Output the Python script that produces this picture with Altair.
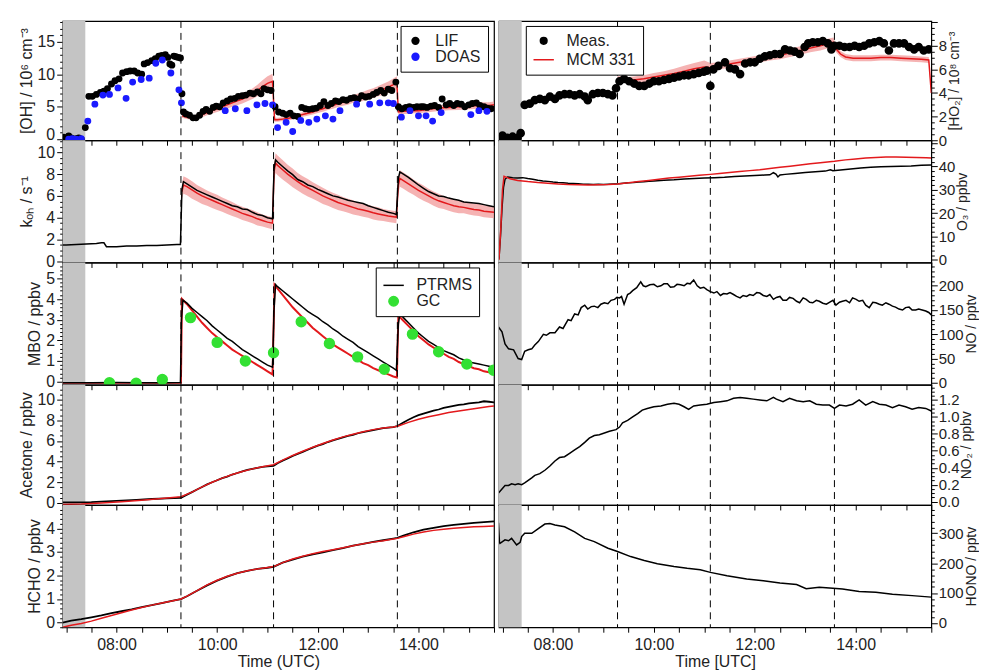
import altair as alt
import pandas as pd

FONT = "Liberation Sans"
TXT = "#222222"
RED = "#e3191c"
BAND = "#f29a9a"
GRAY = "#c4c4c4"
BLUE = "#1a1aff"
GREEN = "#33e033"

XMIN, XMAX = 6.93, 15.5
gray_start = [6.93]
gray_end = [7.38]
dash_times = [9.28, 11.12, 13.58]
x_ticks = [7.0, 7.5, 8.0, 8.5, 9.0, 9.5, 10.0, 10.5, 11.0, 11.5, 12.0, 12.5, 13.0, 13.5, 14.0, 14.5, 15.0, 15.5]

# ---------------- OH ----------------
lif_t = [6.95, 7.00, 7.05, 7.10, 7.15, 7.20, 7.25, 7.30,
         7.38, 7.45, 7.52, 7.60, 7.68, 7.75, 7.82, 7.90, 7.97, 8.05,
         8.12, 8.20, 8.27, 8.35, 8.42, 8.50, 8.55, 8.62, 8.70, 8.77,
         8.84, 8.90, 8.97, 9.02, 9.06, 9.10, 9.14, 9.18, 9.23, 9.27,
         9.30, 9.33, 9.38, 9.45, 9.52, 9.58, 9.65, 9.72, 9.78, 9.85,
         9.92, 9.98, 10.05, 10.12, 10.20, 10.27, 10.35, 10.42, 10.50, 10.57,
         10.65, 10.72, 10.80, 10.87, 10.93, 11.00, 11.07,
         11.15, 11.22, 11.30, 11.37, 11.45, 11.52, 11.60, 11.68, 11.75, 11.82,
         11.90, 11.97, 12.05, 12.12, 12.20, 12.27, 12.35, 12.42, 12.50, 12.57,
         12.65, 12.72, 12.80, 12.87, 12.95, 13.02, 13.10, 13.17, 13.25, 13.32,
         13.40, 13.47, 13.55,
         13.60, 13.67, 13.75, 13.82, 13.90, 13.97, 14.05, 14.10, 14.17, 14.25,
         14.32, 14.40, 14.47, 14.55, 14.62, 14.70, 14.77, 14.85, 14.92, 15.00,
         15.07, 15.15, 15.22, 15.30, 15.37, 15.45]
lif_v = [0.3, 0.0, 0.5, 0.2, 0.0, 0.1, 0.2, 0.0,
         1.8, 6.6, 6.6, 6.9, 7.2, 7.4, 7.8, 8.5, 9.0, 9.3,
         10.2, 10.4, 10.5, 10.5, 10.2, 10.0, 11.6, 11.8, 12.1, 12.4,
         12.8, 12.9, 13.0, 12.6, 11.6, 11.4, 12.8, 12.7, 12.6, 12.5,
         7.0, 4.2, 3.9, 3.7, 3.3, 3.3, 3.7, 4.3, 4.6, 4.3,
         4.9, 5.1, 5.0, 5.6, 5.9, 6.2, 6.3, 6.6, 6.7, 6.8,
         7.1, 7.0, 7.3, 7.0, 7.8, 7.6, 7.5,
         5.0, 4.2, 4.0, 3.8, 4.0, 3.6, 3.5, 4.9, 4.7, 4.6,
         4.7, 4.8, 5.2, 5.8, 5.2, 5.5, 5.9, 5.8, 6.1, 6.0,
         6.3, 6.4, 6.2, 6.7, 6.5, 6.6, 6.9, 7.2, 7.5, 7.1,
         7.7, 7.5, 8.8,
         5.0, 4.7, 4.9, 5.0, 4.9, 5.0, 5.0, 5.0, 4.9, 5.1,
         5.2, 4.9, 6.2, 5.3, 5.5, 5.2, 5.5, 5.4, 5.0, 5.3,
         5.5, 5.6, 5.2, 5.0, 4.8, 4.7]
doas_t = [7.05, 7.12, 7.20, 7.30, 7.43, 7.57, 7.73, 7.86, 8.03, 8.19, 8.32, 8.49, 8.65, 8.78, 8.91, 9.08, 9.24, 9.29,
          10.16, 10.36, 10.59, 10.79, 10.95, 11.10,
          11.20, 11.37, 11.50, 11.66, 11.82, 11.98, 12.15, 12.30, 12.44, 12.77, 13.03, 13.23, 13.40, 13.50,
          13.66, 13.83, 14.00, 14.15, 14.28, 14.45, 15.04, 15.20, 15.36]
doas_v = [0.0, 0.1, 0.0, 0.1, 2.8, 5.4, 6.8, 6.9, 7.9, 6.3, 8.8, 9.2, 9.4, 11.7, 12.2, 10.2, 7.6, 5.6,
          4.4, 4.7, 4.4, 5.3, 5.5, 5.3,
          1.8, 2.6, 1.2, 2.9, 2.6, 3.1, 3.6, 3.1, 4.4, 5.4, 5.4, 5.6, 5.6, 5.5,
          3.4, 4.4, 3.6, 3.6, 2.8, 4.1, 3.8, 4.4, 4.3]
ohm_t = [9.30, 9.40, 9.50, 9.60, 9.70, 9.80, 9.90, 10.00, 10.10, 10.20, 10.30, 10.40, 10.50, 10.60, 10.70, 10.80, 10.90, 11.00, 11.10,
         11.14, 11.20, 11.30, 11.40, 11.50, 11.60, 11.70, 11.80, 11.90, 12.00, 12.10, 12.20, 12.30, 12.40, 12.50, 12.60, 12.70, 12.80,
         12.90, 13.00, 13.10, 13.20, 13.30, 13.40, 13.50, 13.57,
         13.60, 13.70, 13.80, 13.90, 14.00, 14.20, 14.40, 14.60, 14.80, 15.00, 15.20, 15.40, 15.50]
ohm_v = [3.6, 3.4, 3.3, 3.5, 3.8, 4.1, 4.4, 4.7, 5.0, 5.3, 5.6, 5.9, 6.2, 6.6, 7.0, 7.5, 8.1, 8.6, 8.9,
         3.0, 3.0, 3.1, 3.2, 3.4, 3.6, 3.8, 4.0, 4.2, 4.5, 4.7, 5.0, 5.2, 5.5, 5.7, 5.9, 6.2, 6.4,
         6.6, 6.9, 7.1, 7.4, 7.7, 8.0, 8.4, 8.7,
         4.2, 4.3, 4.3, 4.4, 4.4, 4.6, 4.8, 4.9, 5.0, 5.1, 5.2, 5.2, 5.3]
ohm_u = [0.3, 0.3, 0.3, 0.35, 0.4, 0.4, 0.45, 0.5, 0.5, 0.55, 0.6, 0.65, 0.7, 0.75, 0.8, 0.9, 1.0, 1.1, 1.2,
         0.3, 0.3, 0.3, 0.3, 0.35, 0.35, 0.35, 0.4, 0.4, 0.45, 0.45, 0.5, 0.5, 0.55, 0.55, 0.6, 0.6, 0.65,
         0.7, 0.7, 0.75, 0.8, 0.85, 0.9, 0.95, 1.0,
         0.4, 0.4, 0.4, 0.4, 0.4, 0.45, 0.45, 0.45, 0.5, 0.5, 0.5, 0.5, 0.5]

# ---------------- kOH ----------------
koh_pre_t = [6.93, 7.0, 7.2, 7.4, 7.6, 7.7, 7.75, 7.8, 7.9, 8.0, 8.2, 8.4, 8.6, 8.8, 9.0, 9.2, 9.27]
koh_pre_v = [1.5, 1.5, 1.55, 1.6, 1.65, 1.7, 1.7, 1.35, 1.35, 1.35, 1.4, 1.4, 1.45, 1.45, 1.5, 1.55, 1.55]
koh_t = [9.30, 9.33, 9.4, 9.5, 9.6, 9.7, 9.8, 9.9, 10.0, 10.1, 10.2, 10.3, 10.4, 10.5, 10.6, 10.7, 10.8, 10.9, 11.0, 11.1,
         11.13, 11.16, 11.2, 11.3, 11.4, 11.5, 11.6, 11.7, 11.8, 11.9, 12.0, 12.1, 12.2, 12.3, 12.4, 12.5, 12.6, 12.7,
         12.8, 12.9, 13.0, 13.1, 13.2, 13.3, 13.4, 13.5, 13.56,
         13.6, 13.63, 13.7, 13.8, 13.9, 14.0, 14.1, 14.2, 14.3, 14.4, 14.5, 14.6, 14.7, 14.8, 14.9, 15.0, 15.1, 15.2,
         15.3, 15.4, 15.5]
koh_v = [6.6, 7.3, 7.1, 6.8, 6.5, 6.3, 6.1, 5.9, 5.7, 5.5, 5.3, 5.1, 5.0, 4.8, 4.75, 4.5, 4.3, 4.2, 4.0, 3.9,
         8.5, 9.3, 9.1, 8.7, 8.3, 7.95, 7.5, 7.3, 7.0, 6.85, 6.6, 6.4, 6.2, 6.0, 5.9, 5.75, 5.6, 5.5,
         5.4, 5.3, 5.1, 4.95, 4.8, 4.65, 4.5, 4.4, 4.3,
         7.6, 8.2, 8.0, 7.7, 7.35, 7.0, 6.7, 6.4, 6.2, 6.0, 5.95, 5.8, 5.7, 5.6, 5.45, 5.4, 5.35, 5.3,
         5.2, 5.1, 5.0]
kohm_v = [6.4, 7.0, 6.85, 6.55, 6.25, 6.0, 5.8, 5.6, 5.4, 5.2, 5.0, 4.8, 4.6, 4.4, 4.25, 4.1, 3.9, 3.75, 3.6, 3.5,
          8.2, 9.0, 8.8, 8.4, 8.0, 7.65, 7.3, 7.0, 6.75, 6.5, 6.25, 6.0, 5.8, 5.6, 5.4, 5.25, 5.1, 4.95,
          4.8, 4.7, 4.6, 4.45, 4.35, 4.25, 4.15, 4.1, 4.05,
          7.0, 7.6, 7.4, 7.1, 6.8, 6.5, 6.25, 6.0, 5.75, 5.55, 5.4, 5.25, 5.1, 5.0, 4.95, 4.85, 4.75, 4.7,
          4.6, 4.55, 4.5]
kohm_u = [0.7, 0.8, 0.8, 0.8, 0.75, 0.75, 0.7, 0.7, 0.7, 0.65, 0.65, 0.65, 0.6, 0.6, 0.6, 0.6, 0.6, 0.55, 0.55, 0.55,
          0.85, 0.9, 0.9, 0.9, 0.85, 0.85, 0.8, 0.8, 0.8, 0.75, 0.75, 0.75, 0.7, 0.7, 0.7, 0.65, 0.65, 0.65,
          0.6, 0.6, 0.6, 0.6, 0.6, 0.55, 0.55, 0.55, 0.55,
          0.7, 0.75, 0.75, 0.75, 0.7, 0.7, 0.7, 0.65, 0.65, 0.65, 0.6, 0.6, 0.6, 0.6, 0.55, 0.55, 0.55, 0.55,
          0.55, 0.55, 0.55]

# ---------------- MBO ----------------
mbo_t = [6.93, 7.5, 8.0, 8.5, 9.0, 9.27,
         9.29, 9.32, 9.4, 9.5, 9.6, 9.7, 9.8, 9.9, 10.0, 10.1, 10.2, 10.3, 10.4, 10.5, 10.6, 10.7, 10.8, 10.9, 11.0, 11.1,
         11.13, 11.16, 11.2, 11.3, 11.4, 11.5, 11.6, 11.7, 11.8, 11.9, 12.0, 12.1, 12.2, 12.3, 12.4, 12.5, 12.6, 12.7,
         12.8, 12.9, 13.0, 13.1, 13.2, 13.3, 13.4, 13.5, 13.56,
         13.6, 13.63, 13.7, 13.8, 13.9, 14.0, 14.1, 14.2, 14.3, 14.4, 14.5, 14.6, 14.7, 14.8, 14.9, 15.0, 15.1, 15.2,
         15.3, 15.4, 15.5]
mbo_v = [-0.05, -0.05, -0.04, -0.05, -0.05, -0.04,
         3.0, 3.95, 3.8, 3.55, 3.35, 3.15, 2.95, 2.7, 2.5, 2.3, 2.1, 1.95, 1.75, 1.55, 1.4, 1.25, 1.1, 0.95, 0.8, 0.7,
         3.5, 4.7, 4.6, 4.4, 4.2, 4.0, 3.8, 3.6, 3.4, 3.25, 3.1, 2.9, 2.75, 2.55, 2.4, 2.2, 2.05, 1.9,
         1.7, 1.55, 1.4, 1.25, 1.1, 0.95, 0.8, 0.65, 0.55,
         2.8, 3.3, 3.1, 2.85, 2.6, 2.35, 2.15, 1.95, 1.8, 1.65, 1.5, 1.4, 1.3, 1.15, 1.05, 0.95, 0.9, 0.85,
         0.8, 0.75, 0.7]
mbom_t = [6.93, 9.28,
          9.30, 9.4, 9.5, 9.6, 9.7, 9.8, 9.9, 10.0, 10.1, 10.2, 10.3, 10.4, 10.5, 10.6, 10.7, 10.8, 10.9, 11.0, 11.1,
          11.14, 11.2, 11.3, 11.4, 11.5, 11.6, 11.7, 11.8, 11.9, 12.0, 12.1, 12.2, 12.3, 12.4, 12.5, 12.6, 12.7, 12.8,
          12.9, 13.0, 13.1, 13.2, 13.3, 13.4, 13.5, 13.57,
          13.6, 13.7, 13.8, 13.9, 14.0, 14.1, 14.2, 14.3, 14.4, 14.5, 14.6, 14.7, 14.8, 14.9, 15.0, 15.1, 15.2, 15.3,
          15.4, 15.5]
mbom_v = [-0.06, -0.06,
          4.0, 3.75, 3.45, 3.15, 2.85, 2.6, 2.35, 2.15, 1.95, 1.75, 1.55, 1.4, 1.25, 1.1, 0.95, 0.8, 0.65, 0.5, 0.35,
          4.7, 4.5, 4.2, 3.9, 3.6, 3.35, 3.1, 2.85, 2.6, 2.4, 2.2, 2.0, 1.8, 1.65, 1.5, 1.35, 1.2, 1.05,
          0.9, 0.8, 0.65, 0.55, 0.45, 0.35, 0.25, 0.2,
          3.2, 2.95, 2.7, 2.45, 2.2, 2.0, 1.8, 1.65, 1.5, 1.35, 1.2, 1.1, 0.95, 0.85, 0.75, 0.65, 0.6, 0.5,
          0.45, 0.4]
gc_t = [7.86, 8.39, 8.91, 9.47, 10.0, 10.56, 11.12, 11.67, 12.23, 12.79, 13.32, 13.88, 14.4, 14.96, 15.49]
gc_v = [-0.05, -0.08, 0.1, 3.1, 1.9, 1.0, 1.4, 2.9, 1.85, 1.2, 0.6, 2.3, 1.45, 0.85, 0.55]

# ---------------- Acetone ----------------
ace_t = [6.93, 7.2, 7.5, 7.8, 8.1, 8.4, 8.7, 9.0, 9.28,
         9.4, 9.5, 9.6, 9.7, 9.8, 9.9, 10.0, 10.1, 10.2, 10.3, 10.4, 10.5, 10.6, 10.7, 10.8, 10.9, 11.0, 11.12,
         11.2, 11.3, 11.4, 11.5, 11.6, 11.7, 11.8, 11.9, 12.0, 12.1, 12.2, 12.3, 12.4, 12.5, 12.6, 12.7, 12.8, 12.9,
         13.0, 13.1, 13.2, 13.3, 13.4, 13.5, 13.58,
         13.7, 13.8, 13.9, 14.0, 14.1, 14.2, 14.3, 14.4, 14.5, 14.6, 14.7, 14.8, 14.9, 15.0, 15.1, 15.2, 15.3, 15.4, 15.5]
ace_v = [0.05, 0.05, 0.08, 0.15, 0.22, 0.3, 0.38, 0.45, 0.5,
         0.8, 1.05, 1.3, 1.55, 1.8, 2.0, 2.2, 2.4, 2.55, 2.75, 2.9, 3.05, 3.2, 3.3, 3.4, 3.5, 3.55, 3.6,
         3.85, 4.1, 4.3, 4.55, 4.75, 4.95, 5.15, 5.35, 5.55, 5.7, 5.9, 6.05, 6.2, 6.35, 6.5, 6.6, 6.75, 6.85,
         6.95, 7.05, 7.15, 7.25, 7.3, 7.35, 7.45,
         7.8, 8.05, 8.3, 8.5, 8.65, 8.8, 8.95, 9.05, 9.2, 9.3, 9.4, 9.5, 9.55, 9.65, 9.7, 9.75, 9.85, 9.8, 9.75]
acem_t = [6.93, 7.3, 7.7, 8.1, 8.5, 8.9, 9.28, 9.5, 9.7, 9.9, 10.1, 10.3, 10.5, 10.7, 10.9, 11.12, 11.3, 11.5, 11.7,
          11.9, 12.1, 12.3, 12.5, 12.7, 12.9, 13.1, 13.3, 13.5, 13.6, 13.8, 14.0, 14.2, 14.4, 14.6, 14.8, 15.0, 15.2,
          15.4, 15.5]
acem_v = [-0.15, -0.1, 0.0, 0.12, 0.27, 0.42, 0.6, 1.05, 1.55, 2.0, 2.4, 2.75, 3.05, 3.3, 3.5, 3.7, 4.15, 4.6, 5.0,
          5.4, 5.75, 6.1, 6.4, 6.65, 6.9, 7.1, 7.25, 7.35, 7.45, 7.8, 8.1, 8.35, 8.55, 8.75, 8.9, 9.05, 9.2,
          9.35, 9.4]

# ---------------- HCHO ----------------
hcho_t = [6.93, 7.1, 7.3, 7.5, 7.7, 7.9, 8.1, 8.3, 8.5, 8.7, 8.9, 9.1, 9.28,
          9.4, 9.6, 9.8, 10.0, 10.2, 10.4, 10.6, 10.8, 11.0, 11.12,
          11.3, 11.5, 11.7, 11.9, 12.1, 12.3, 12.5, 12.7, 12.9, 13.1, 13.3, 13.5, 13.58,
          13.7, 13.9, 14.1, 14.3, 14.5, 14.7, 14.9, 15.1, 15.3, 15.5]
hcho_v = [0.0, 0.08, 0.14, 0.22, 0.3, 0.4, 0.48, 0.56, 0.66, 0.74, 0.83, 0.92, 1.0,
          1.12, 1.35, 1.58, 1.78, 1.95, 2.1, 2.2, 2.28, 2.33, 2.37,
          2.55, 2.68, 2.8, 2.9, 2.98, 3.08, 3.17, 3.27, 3.35, 3.43, 3.5, 3.57, 3.6,
          3.7, 3.84, 3.95, 4.03, 4.1, 4.15, 4.2, 4.24, 4.27, 4.3]
hchom_v = [-0.2, -0.12, -0.04, 0.06, 0.18, 0.3, 0.42, 0.53, 0.64, 0.74, 0.83, 0.92, 1.0,
           1.12, 1.36, 1.6, 1.8, 1.97, 2.1, 2.2, 2.28, 2.34, 2.38,
           2.55, 2.7, 2.82, 2.93, 3.02, 3.1, 3.18, 3.27, 3.35, 3.42, 3.48, 3.55, 3.58,
           3.65, 3.76, 3.85, 3.92, 3.97, 4.01, 4.04, 4.07, 4.09, 4.11]

# ---------------- HO2 ----------------
ho2_t = [6.95, 7.0, 7.05, 7.1, 7.15, 7.2, 7.25, 7.3, 7.36,
         7.44, 7.54, 7.64, 7.74, 7.84, 7.94, 8.04, 8.13, 8.23, 8.33,
         8.43, 8.53, 8.63, 8.69, 8.79, 8.89, 8.99, 9.09, 9.18, 9.25,
         9.32, 9.41, 9.51, 9.61, 9.71, 9.81, 9.91, 10.0, 10.1, 10.2,
         10.3, 10.4, 10.5, 10.6, 10.69, 10.79, 10.89, 10.99, 11.05, 11.12,
         11.18, 11.28, 11.41, 11.51, 11.61, 11.71, 11.81, 11.91, 12.0, 12.1,
         12.2, 12.3, 12.4, 12.5, 12.6, 12.7, 12.79, 12.89, 12.99, 13.06,
         13.15, 13.25, 13.35, 13.45, 13.52, 13.58,
         13.68, 13.78, 13.88, 13.98, 14.07, 14.17, 14.27, 14.37, 14.47, 14.56,
         14.66, 14.76, 14.86, 14.96, 15.06, 15.16, 15.25, 15.35, 15.45]
ho2_v = [0.2, 0.4, 0.1, 0.2, 0.1, 0.3, 0.1, 0.2, 0.6,
         3.0, 3.1, 3.4, 3.5, 3.4, 3.7, 3.5, 3.8, 3.9, 3.9,
         3.8, 3.9, 3.7, 3.4, 3.9, 4.0, 4.0, 3.9, 3.8, 4.4,
         5.0, 5.2, 5.0, 4.8, 4.6, 4.6, 4.8, 5.0, 5.0, 5.1,
         5.2, 5.3, 5.4, 5.5, 5.5, 5.6, 5.7, 5.8, 5.9, 4.6,
         6.0, 6.3, 6.6, 6.1, 6.0, 5.6, 6.5, 6.6, 6.6, 6.9,
         7.1, 7.2, 7.3, 7.3, 7.7, 7.6, 7.5, 7.3, 7.9, 8.2,
         8.3, 8.3, 8.4, 8.2, 7.7, 8.0,
         8.0, 7.9, 7.9, 8.0, 7.9, 8.0, 8.2, 8.3, 8.4, 8.2,
         7.6, 8.2, 8.2, 8.2, 7.9, 7.7, 7.9, 7.6, 7.7]
ho2m_t = [9.28, 9.4, 9.5, 9.6, 9.8, 10.0, 10.2, 10.4, 10.6, 10.8, 11.0, 11.12, 11.3, 11.5, 11.7, 11.9, 12.1, 12.3,
          12.5, 12.7, 12.9, 13.1, 13.3, 13.45, 13.56, 13.62, 13.7, 13.8, 13.95, 14.1, 14.3, 14.5, 14.7, 14.9, 15.1,
          15.3, 15.45, 15.5]
ho2m_v = [5.2, 5.15, 5.1, 5.1, 5.2, 5.35, 5.5, 5.65, 5.85, 6.05, 6.2, 6.15, 6.3, 6.45, 6.6, 6.75, 6.9, 7.05,
          7.2, 7.4, 7.6, 7.8, 8.0, 8.2, 8.3, 7.7, 7.3, 7.05, 6.95, 6.95, 6.95, 7.0, 7.0, 6.95, 6.9,
          6.85, 6.8, 4.0]
ho2m_u = [0.25, 0.25, 0.25, 0.3, 0.3, 0.35, 0.35, 0.4, 0.45, 0.5, 0.55, 0.4, 0.3, 0.3, 0.3, 0.3, 0.3, 0.3,
          0.35, 0.35, 0.35, 0.35, 0.4, 0.4, 0.4, 0.3, 0.25, 0.25, 0.25, 0.25, 0.25, 0.25, 0.25, 0.25, 0.25,
          0.25, 0.25, 0.25]

# ---------------- O3 ----------------
o3_t = [6.93, 6.96, 6.99, 7.02, 7.05,
        7.1, 7.2, 7.3, 7.4, 7.5, 7.6, 7.7, 7.8, 7.9, 8.0,
        8.1, 8.2, 8.3, 8.4, 8.5, 8.6, 8.7, 8.8, 8.9, 9.0,
        9.1, 9.2, 9.3, 9.4, 9.5, 9.6, 9.7, 9.8, 9.9, 10.0,
        10.2, 10.4, 10.6, 10.8, 11.0, 11.2, 11.4, 11.6, 11.8, 12.0,
        12.1, 12.2, 12.3, 12.37, 12.42, 12.46, 12.5, 12.6, 12.8,
        13.0, 13.2, 13.4, 13.5, 13.55, 13.7, 13.9,
        14.1, 14.3, 14.5, 14.7, 14.9, 15.1, 15.3, 15.5]
o3_v = [0.5, 10, 22, 31, 34.5,
        35.5, 35.2, 35.0, 35.2, 34.8, 34.5, 34.1, 33.8, 33.6, 33.3,
        33.1, 33.0, 32.8, 32.7, 32.6, 32.4, 32.4, 32.3, 32.4, 32.3,
        32.4, 32.5, 32.6, 32.8, 33.0, 33.1, 33.3, 33.4, 33.6, 33.8,
        34.1, 34.3, 34.6, 34.8, 35.0, 35.2, 35.4, 35.7, 35.9, 36.1,
        36.2, 36.3, 36.4, 37.3, 36.7, 35.5, 36.3, 36.6, 37.0,
        37.4, 37.7, 38.0, 38.6, 38.2, 38.5, 38.9,
        39.3, 39.6, 39.9, 40.0, 40.1, 40.2, 40.5, 40.6]
o3m_t = [6.93, 6.97, 7.0, 7.03, 7.06, 7.15, 7.3, 7.5, 7.7, 7.9, 8.1, 8.3, 8.5, 8.7, 8.9, 9.1, 9.28, 9.5, 9.7, 9.9,
         10.1, 10.3, 10.5, 10.7, 10.9, 11.12, 11.3, 11.5, 11.7, 11.9, 12.1, 12.3, 12.5, 12.7, 12.9, 13.1, 13.3,
         13.58, 13.8, 14.0, 14.2, 14.4, 14.6, 14.8, 15.0, 15.2, 15.4, 15.5]
o3m_v = [0, 15, 30, 35.8, 35.5, 34.7, 34.0, 33.5, 33.1, 32.8, 32.5, 32.3, 32.2, 32.1, 32.2, 32.3, 32.5, 33.0, 33.5, 34.0,
         34.5, 35.0, 35.4, 35.8, 36.2, 36.6, 37.0, 37.4, 37.8, 38.2, 38.6, 39.1, 39.6, 40.1, 40.6, 41.1, 41.6,
         42.2, 42.8, 43.2, 43.6, 43.8, 44.0, 44.0, 43.9, 43.8, 43.7, 43.6]

# ---------------- NO ----------------
no_t = [6.92, 6.99, 7.05, 7.12, 7.22, 7.31, 7.38, 7.44, 7.51, 7.58, 7.64, 7.71, 7.81, 7.87, 7.94, 8.04, 8.13, 8.2,
        8.3, 8.36, 8.43, 8.5, 8.56, 8.63, 8.69, 8.76, 8.82, 8.89, 8.95, 9.02, 9.09, 9.15, 9.22, 9.27, 9.32, 9.36,
        9.41, 9.48, 9.53, 9.58, 9.66, 9.74, 9.79, 9.84, 9.92, 10.0, 10.07, 10.14, 10.2, 10.27, 10.33, 10.4, 10.46,
        10.53, 10.6, 10.66, 10.72, 10.79, 10.86, 10.92, 10.99, 11.05, 11.12, 11.19, 11.25, 11.32, 11.38, 11.45,
        11.51, 11.58, 11.64, 11.71, 11.77, 11.84, 11.9, 11.97, 12.04, 12.1, 12.17, 12.24, 12.3, 12.37, 12.43, 12.5,
        12.56, 12.63, 12.69, 12.76, 12.83, 12.89, 12.96, 13.02, 13.09, 13.15, 13.22, 13.28, 13.35, 13.42, 13.48,
        13.55, 13.61, 13.68, 13.74, 13.81, 13.88, 13.94, 14.01, 14.07, 14.14, 14.2, 14.27, 14.34, 14.4, 14.47,
        14.53, 14.6, 14.66, 14.73, 14.79, 14.86, 14.93, 14.99, 15.06, 15.12, 15.19, 15.25, 15.32, 15.39, 15.45, 15.5]
no_v = [115, 105, 80, 70, 68, 50, 48, 65, 68, 70, 78, 85, 100, 98, 103, 103, 115, 112,
        130, 128, 142, 140, 155, 160, 152, 157, 158, 155, 162, 165, 163, 170, 172, 176, 175, 178,
        162, 182, 185, 190, 196, 208, 200, 198, 202, 203, 198, 200, 204, 204, 197, 198, 203,
        202, 200, 205, 204, 212, 200, 195, 197, 192, 188, 185, 188, 180, 184, 183,
        186, 182, 178, 175, 180, 178, 182, 180, 186, 185, 180, 178, 182, 172, 176, 178,
        170, 170, 176, 174, 168, 165, 175, 172, 166, 165, 170, 168, 164, 162, 166,
        170, 160, 166, 168, 170, 165, 175, 172, 168, 170, 160, 155, 166, 165, 162,
        160, 165, 162, 158, 156, 152, 150, 155, 156, 150, 150, 152, 150, 148, 145, 140]

# ---------------- NO2 ----------------
no2_t = [6.92, 6.99, 7.05, 7.12, 7.18, 7.25, 7.31, 7.38, 7.44, 7.51, 7.58, 7.64, 7.74, 7.84, 7.94, 8.04, 8.13, 8.23,
         8.33, 8.43, 8.53, 8.63, 8.72, 8.82, 8.92, 9.02, 9.12, 9.25, 9.32, 9.38, 9.48, 9.58, 9.68, 9.77, 9.87, 10.0,
         10.14, 10.27, 10.4, 10.5, 10.6, 10.69, 10.79, 10.92, 11.05, 11.19, 11.32, 11.45, 11.58, 11.71, 11.84, 11.97,
         12.1, 12.24, 12.37, 12.43, 12.56, 12.69, 12.83, 12.96, 13.09, 13.22, 13.35, 13.48, 13.58, 13.68, 13.81,
         13.94, 14.07, 14.2, 14.34, 14.47, 14.6, 14.73, 14.86, 14.99, 15.12, 15.25, 15.39, 15.5]
no2_v = [0.10, 0.15, 0.19, 0.19, 0.21, 0.20, 0.21, 0.20, 0.22, 0.25, 0.28, 0.31, 0.33, 0.37, 0.42, 0.48, 0.52, 0.53,
         0.57, 0.61, 0.65, 0.70, 0.75, 0.78, 0.79, 0.81, 0.83, 0.85, 0.88, 0.93, 0.96, 1.00, 1.04, 1.08, 1.10, 1.12,
         1.13, 1.15, 1.16, 1.15, 1.12, 1.09, 1.13, 1.14, 1.15, 1.17, 1.18, 1.19, 1.22, 1.23, 1.22, 1.21,
         1.20, 1.19, 1.23, 1.21, 1.18, 1.22, 1.19, 1.18, 1.19, 1.15, 1.14, 1.14, 1.10, 1.14, 1.13,
         1.15, 1.20, 1.14, 1.18, 1.15, 1.14, 1.11, 1.14, 1.12, 1.09, 1.11, 1.10, 1.07]

# ---------------- HONO ----------------
hono_t = [6.92, 6.94, 6.95, 7.05, 7.12, 7.18, 7.28, 7.35, 7.38, 7.44, 7.58, 7.71, 7.84, 7.94, 8.04, 8.23, 8.43, 8.63,
          8.82, 9.09, 9.28, 9.54, 9.81, 10.07, 10.4, 10.66, 10.92, 11.12, 11.45, 11.84, 12.17, 12.5, 12.83, 13.02,
          13.28, 13.55, 13.74, 14.07, 14.4, 14.73, 15.12, 15.5]
hono_v = [335, 270, 266, 278, 275, 283, 261, 270, 289, 300, 300, 316, 331, 333, 328, 322, 305, 283,
          272, 250, 239, 222, 209, 198, 189, 183, 178, 169, 158, 147, 141, 133, 128, 114,
          119, 116, 113, 105, 102, 96, 91, 86]

LABEL_EXPR = "datum.value % 2 === 0 ? ((datum.value < 10 ? '0' : '') + datum.value + ':00') : ''"


def xenc(bottom, title):
    if bottom:
        ax = alt.Axis(values=x_ticks, labelExpr=LABEL_EXPR, title=title, tickSize=5, labelPadding=4,
                      titlePadding=2, domain=False, grid=False, labelFlush=False, labelOverlap=False,
                      tickCount=len(x_ticks))
    else:
        ax = alt.Axis(values=x_ticks, labels=False, title=None, tickSize=5, domain=False, grid=False,
                      tickCount=len(x_ticks))
    return alt.X("t:Q", scale=alt.Scale(domain=[XMIN, XMAX], nice=False, zero=False), axis=ax)


def tick_values(dom, step):
    k0 = int(-(-dom[0] // step))
    k1 = int(dom[1] // step)
    return [round(k * step, 6) for k in range(k0, k1 + 1)]


def major_test(major_step):
    return f"abs(datum.value / {major_step} - round(datum.value / {major_step})) < 0.000001"


def yenc(field, dom, major_step, minor_step, label_max, title, side, fmt="d", zero_up=False):
    is_major = major_test(major_step)
    show = f"({is_major}) && datum.value <= {label_max} + 0.000001"
    fs = 16 if side == "left" else 15
    vals = tick_values(dom, minor_step)
    kw = dict(values=vals, tickCount=len(vals), title=title, orient=side, domain=False, grid=False,
              labelOverlap=False, labelExpr=f"{show} ? format(datum.value, '{fmt}') : ''",
              tickSize={"condition": {"test": is_major, "value": 6}, "value": 3},
              labelFontSize={"condition": {"test": show, "value": fs}, "value": 0})
    if side == "left":
        kw.update(labelPadding=2, titlePadding=3)
    else:
        kw.update(labelPadding=1, titlePadding=1, titleAngle=270, titleBaseline="top", titleFontSize=14)
    if zero_up:
        kw["labelBaseline"] = {"condition": {"test": "datum.value === 0", "value": "alphabetic"}, "value": "middle"}
    return alt.Y(f"{field}:Q", scale=alt.Scale(domain=dom, nice=False, zero=False), axis=alt.Axis(**kw))


def df(**cols):
    return pd.DataFrame(cols)


def frame_layers(X):
    gray = alt.Chart(df(t=gray_start, t2=gray_end)).mark_rect(color=GRAY).encode(x=X, x2="t2:Q")
    dash = alt.Chart(df(t=dash_times)).mark_rule(color="black", strokeDash=[7, 5], strokeWidth=1).encode(x=X)
    return gray, dash


def line(data, X, Y, color, width=1.5):
    return alt.Chart(data).mark_line(color=color, strokeWidth=width, clip=True).encode(x=X, y=Y)


def band(t, v, u, X, Yl):
    lo = [a - b for a, b in zip(v, u)]
    hi = [a + b for a, b in zip(v, u)]
    return alt.Chart(df(t=t, lo=lo, hi=hi)).mark_area(color=BAND, opacity=0.75, clip=True).encode(
        x=X, y=Yl, y2="hi:Q")


def mixed_legend(x, y):
    return alt.Legend(title=None, orient="none", legendX=x, legendY=y, strokeColor="black", fillColor="white",
                      padding=7, labelOffset=12, rowPadding=0, symbolStrokeWidth=1.5, labelFontSize=16,
                      labelFont=FONT, labelColor=TXT)


W_L, W_R = 434, 435
HEIGHTS = [120, 123, 123, 121, 123]

# ---------- left column ----------
left = []

# OH
X = xenc(False, None)
dom = [-0.15, 18.2]; title = "[OH] / 10⁶ cm⁻³"
Y = yenc("v", dom, 5, 1, 15, title, "left", zero_up=True)
Yl = yenc("lo", dom, 5, 1, 15, title, "left", zero_up=True)
gray, dash = frame_layers(X)
oh_pts = pd.concat([df(t=lif_t, v=lif_v, s=["LIF"] * len(lif_t)), df(t=doas_t, v=doas_v, s=["DOAS"] * len(doas_t))])
pts = alt.Chart(oh_pts).mark_point(filled=True, size=48, opacity=1, clip=True).encode(
    x=X, y=Y,
    color=alt.Color("s:N", scale=alt.Scale(domain=["LIF", "DOAS"], range=["black", BLUE]),
                    legend=alt.Legend(title=None, orient="none", legendX=340, legendY=5, strokeColor="black",
                                      fillColor="white", padding=7, labelOffset=12, rowPadding=0,
                                      symbolType="circle", symbolSize=70, labelFontSize=16)))
left.append(alt.layer(gray, band(ohm_t, ohm_v, ohm_u, X, Yl),
                      line(df(t=ohm_t, v=ohm_v), X, Y, RED), pts, dash).properties(width=W_L, height=HEIGHTS[0]))

# kOH
X = xenc(False, None)
dom = [-0.1, 11.1]; title = "kₒₕ / s⁻¹"
Y = yenc("v", dom, 2, 0.5, 10, title, "left")
Yl = yenc("lo", dom, 2, 0.5, 10, title, "left")
gray, dash = frame_layers(X)
left.append(alt.layer(gray, band(koh_t, kohm_v, kohm_u, X, Yl),
                      line(df(t=koh_t, v=kohm_v), X, Y, RED),
                      line(df(t=koh_pre_t + koh_t, v=koh_pre_v + koh_v), X, Y, "black"),
                      dash).properties(width=W_L, height=HEIGHTS[1]))

# MBO
X = xenc(False, None)
dom = [-0.15, 5.77]; title = "MBO / ppbv"
Y = yenc("v", dom, 1, 0.2, 5, title, "left")
gray, dash = frame_layers(X)
lg = mixed_legend(315, 5)
mdom = ["PTRMS", "GC"]
gc = alt.Chart(df(t=gc_t, v=gc_v, s=["GC"] * len(gc_t))).mark_point(filled=True, opacity=1, clip=True).encode(
    x=X, y=Y,
    color=alt.Color("s:N", scale=alt.Scale(domain=mdom, range=["black", GREEN]), legend=lg),
    stroke=alt.Stroke("s:N", scale=alt.Scale(domain=mdom, range=["black", GREEN]), legend=lg),
    shape=alt.Shape("s:N", scale=alt.Scale(domain=mdom, range=["stroke", "circle"]), legend=lg),
    size=alt.Size("s:N", scale=alt.Scale(domain=mdom, range=[420, 90]), legend=lg))
left.append(alt.layer(gray, line(df(t=mbom_t, v=mbom_v), X, Y, RED, 2),
                      line(df(t=mbo_t, v=mbo_v), X, Y, "black"), gc, dash).properties(width=W_L, height=HEIGHTS[2]))

# Acetone
X = xenc(False, None)
dom = [-0.2, 11.45]; title = "Acetone / ppbv"
Y = yenc("v", dom, 2, 0.5, 10, title, "left")
gray, dash = frame_layers(X)
left.append(alt.layer(gray, line(df(t=ace_t, v=ace_v), X, Y, "black", 1.8),
                      line(df(t=acem_t, v=acem_v), X, Y, RED), dash).properties(width=W_L, height=HEIGHTS[3]))

# HCHO
X = xenc(True, "Time (UTC)")
dom = [-0.2, 5.0]; title = "HCHO / ppbv"
Y = yenc("v", dom, 1, 0.2, 4, title, "left")
gray, dash = frame_layers(X)
left.append(alt.layer(gray, line(df(t=hcho_t, v=hcho_v), X, Y, "black", 1.8),
                      line(df(t=hcho_t, v=hchom_v), X, Y, RED), dash).properties(width=W_L, height=HEIGHTS[4]))

# ---------- right column ----------
right = []

# HO2
X = xenc(False, None)
dom = [0.0, 10.1]; title = "[HO₂] / 10⁸ cm⁻³"
Y = yenc("v", dom, 2, 0.5, 8, title, "right")
Yl = yenc("lo", dom, 2, 0.5, 8, title, "right")
gray, dash = frame_layers(X)
lg = mixed_legend(27, 5)
hdom = ["Meas.", "MCM 331"]
meas = alt.Chart(df(t=ho2_t, v=ho2_v, s=["Meas."] * len(ho2_t))).mark_point(filled=True, opacity=1, clip=True).encode(
    x=X, y=Y,
    color=alt.Color("s:N", scale=alt.Scale(domain=hdom, range=["black", RED]), legend=lg),
    stroke=alt.Stroke("s:N", scale=alt.Scale(domain=hdom, range=["black", RED]), legend=lg),
    shape=alt.Shape("s:N", scale=alt.Scale(domain=hdom, range=["circle", "stroke"]), legend=lg),
    size=alt.Size("s:N", scale=alt.Scale(domain=hdom, range=[45, 420]), legend=lg))
right.append(alt.layer(gray, band(ho2m_t, ho2m_v, ho2m_u, X, Yl),
                       line(df(t=ho2m_t, v=ho2m_v), X, Y, RED), meas, dash).properties(width=W_R, height=HEIGHTS[0]))

# O3
X = xenc(False, None)
dom = [-1.1, 51.2]; title = "O₃ / ppbv"
Y = yenc("v", dom, 10, 2, 40, title, "right")
gray, dash = frame_layers(X)
right.append(alt.layer(gray, line(df(t=o3_t, v=o3_v), X, Y, "black"),
                       line(df(t=o3m_t, v=o3m_v), X, Y, RED), dash).properties(width=W_R, height=HEIGHTS[1]))

# NO
X = xenc(False, None)
dom = [-4, 248]; title = "NO / pptv"
Y = yenc("v", dom, 50, 10, 200, title, "right")
gray, dash = frame_layers(X)
right.append(alt.layer(gray, line(df(t=no_t, v=no_v), X, Y, "black"), dash).properties(width=W_R, height=HEIGHTS[2]))

# NO2
X = xenc(False, None)
dom = [-0.04, 1.38]; title = "NO₂ / ppbv"
Y = yenc("v", dom, 0.2, 0.05, 1.2, title, "right", ".1f")
gray, dash = frame_layers(X)
right.append(alt.layer(gray, line(df(t=no2_t, v=no2_v), X, Y, "black"), dash).properties(width=W_R, height=HEIGHTS[3]))

# HONO
X = xenc(True, "Time [UTC]")
dom = [-15, 395]; title = "HONO / pptv"
Y = yenc("v", dom, 100, 20, 300, title, "right")
gray, dash = frame_layers(X)
right.append(alt.layer(gray, line(df(t=hono_t, v=hono_v), X, Y, "black"), dash).properties(width=W_R, height=HEIGHTS[4]))

IND = dict(color="independent", shape="independent", stroke="independent", size="independent")
lcol = alt.vconcat(*left, spacing=0, bounds="flush").resolve_scale(**IND)
rcol = alt.vconcat(*right, spacing=0, bounds="flush").resolve_scale(**IND)

chart = alt.hconcat(lcol, rcol, spacing=2).resolve_scale(**IND).properties(
    padding={"left": 9, "top": 9, "right": 0, "bottom": 2}
).configure_view(stroke="black", strokeWidth=1.2).configure_axis(
    labelFont=FONT, titleFont=FONT, labelFontSize=16, titleFontSize=16, labelColor=TXT, titleColor=TXT,
    titleFontWeight="normal", tickColor="black", tickWidth=1
).configure_legend(labelFont=FONT, labelFontSize=16, labelColor=TXT)

chart.save("out.html", embed_options={"renderer": "svg", "actions": False})
